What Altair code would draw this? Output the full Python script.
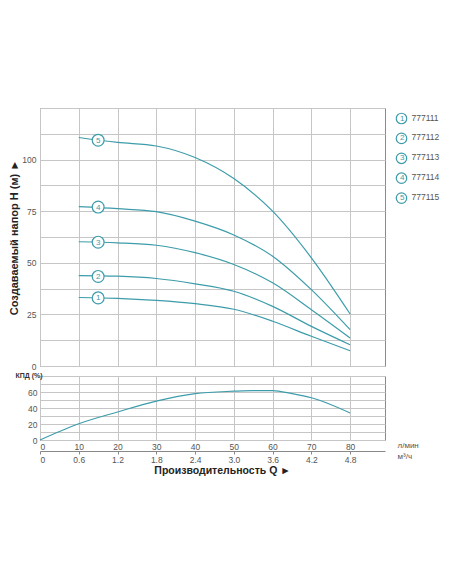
import altair as alt
import pandas as pd

# ---------------- data ----------------
Q = [10, 20, 30, 40, 50, 60, 70, 80]                      # л/мин
MODELS = ["777111", "777112", "777113", "777114", "777115"]
NUMS = ["1", "2", "3", "4", "5"]
H_777111 = [33.2, 32.8, 31.8, 30.2, 27.5, 21.7, 14.4, 7.4]
H_777112 = [43.8, 43.5, 42.4, 39.8, 36.2, 28.9, 19.2, 10.3]
H_777113 = [60.2, 59.7, 58.5, 54.9, 49.2, 40.3, 27.3, 13.6]
H_777114 = [77.2, 76.2, 74.8, 70.2, 63.5, 53.2, 37.0, 17.6]
H_777115 = [110.7, 108.3, 106.6, 101.0, 90.8, 75.0, 52.4, 25.2]
HEADS = [H_777111, H_777112, H_777113, H_777114, H_777115]

LABEL_Q = [15, 15, 15, 15, 15]
LABEL_H = [33.0, 43.4, 60.0, 77.0, 109.4]

EFF_Q = [0, 10, 20, 30, 40, 50, 55, 60, 65, 70, 80]
EFF = [0, 20.3, 35.0, 48.6, 58.0, 61.0, 61.8, 61.8, 58.0, 52.8, 33.8]

X_TICKS = [0, 10, 20, 30, 40, 50, 60, 70, 80]
H_TICKS = [0, 12.5, 25, 37.5, 50, 62.5, 75, 87.5, 100, 112.5, 125]
E_TICKS = [0, 10, 20, 30, 40, 50, 60, 70, 80]

# ---------------- tables ----------------
rows = []
for m, n, hs in zip(MODELS, NUMS, HEADS):
    for q, h in zip(Q, hs):
        rows.append({"model": m, "num": n, "q": q, "h": h})
curves = pd.DataFrame(rows)
labels = pd.DataFrame({"model": MODELS, "num": NUMS, "q": LABEL_Q, "h": LABEL_H})
eff = pd.DataFrame({"q": EFF_Q, "e": EFF})

TEAL = "#3d9caa"
FONT = "Liberation Sans"
LFONT = "Liberation Sans Narrow, Liberation Sans"
GRAY = "#555555"

xs = alt.Scale(domain=[0, 89], nice=False, zero=False)

# ---------------- top panel: head curves ----------------
x_top = alt.X("q:Q", scale=xs,
              axis=alt.Axis(values=X_TICKS, labels=False, ticks=False,
                            domain=False, title=None, grid=True))
y_top = alt.Y("h:Q", scale=alt.Scale(domain=[0, 125], nice=False),
              axis=alt.Axis(values=H_TICKS,
                            labelExpr="datum.value % 25 == 0 && datum.value < 125 ? datum.label : ''",
                            ticks=False, domain=False, grid=True,
                            labelFont=LFONT, labelFontSize=8.5, labelColor=GRAY,
                            labelPadding=4,
                            title="Создаваемый напор H (м) ►",
                            titleFont=FONT, titleFontSize=11, titleFontWeight="bold",
                            titleColor="#222222", titlePadding=2))

lines = alt.Chart(curves).mark_line(interpolate="monotone", strokeWidth=1.2).encode(
    x=x_top, y=y_top,
    color=alt.Color("num:N",
                    scale=alt.Scale(domain=NUMS, range=[TEAL] * 5),
                    legend=alt.Legend(orient="none", legendX=355.5, legendY=4.5,
                                      title=None, symbolType="circle", symbolSize=110,
                                      symbolFillColor="white", symbolStrokeColor=TEAL,
                                      symbolStrokeWidth=1.2,
                                      labelColor=TEAL, labelFont=FONT, labelFontSize=8,
                                      labelAlign="center", labelOffset={"expr": "-5.3"},
                                      rowPadding=3.9, padding=0)),
    detail="model:N",
)

pts = alt.Chart(labels).mark_point(filled=True, fill="white", stroke=TEAL,
                                   strokeWidth=1.2, size=140, opacity=1).encode(
    x=x_top, y=y_top,
    shape=alt.Shape("model:N",
                    scale=alt.Scale(domain=MODELS, range=["circle"] * 5),
                    legend=alt.Legend(orient="none", legendX=355.5, legendY=3.5,
                                      title=None, symbolOpacity=0, symbolSize=110,
                                      labelColor=GRAY, labelFont=LFONT, labelFontSize=8.5,
                                      labelOffset=4, rowPadding=7.9, padding=0)),
)

txt = alt.Chart(labels).mark_text(color=TEAL, font=FONT, fontSize=8, dy=0.5).encode(
    x=x_top, y=y_top, text="num:N"
)

top = alt.layer(lines, pts, txt).properties(width=345, height=258)

# ---------------- bottom panel: efficiency ----------------
x_bot = alt.X("q:Q", scale=xs,
              axis=alt.Axis(values=X_TICKS, grid=True, ticks=False, domain=False,
                            labelFont=LFONT, labelFontSize=8.5, labelColor=GRAY,
                            labelPadding=2,
                            title="л/мин", titleFont=LFONT, titleFontSize=8,
                            titleFontWeight="normal", titleColor=GRAY,
                            titleAngle=0, titleAlign="left", titleBaseline="middle",
                            titleX=357, titleY=5))
y_bot = alt.Y("e:Q", scale=alt.Scale(domain=[0, 80], nice=False),
              axis=alt.Axis(values=E_TICKS,
                            labelExpr="datum.value % 20 == 0 && datum.value < 80 ? datum.label : ''",
                            ticks=False, domain=False, grid=True,
                            labelFont=LFONT, labelFontSize=8.5, labelColor=GRAY,
                            labelPadding=3,
                            title="КПД (%)", titleFont=LFONT, titleFontSize=7,
                            titleFontWeight="bold", titleColor="#333333",
                            titleAngle=0, titleAlign="left", titleBaseline="middle",
                            titleX=-25, titleY=-1))

eff_line = alt.Chart(eff).mark_line(interpolate="monotone", color=TEAL,
                                    strokeWidth=1.2).encode(x=x_bot, y=y_bot)

x_m3 = alt.X("q:Q", scale=xs,
             axis=alt.Axis(values=X_TICKS, orient="bottom", offset=11, grid=False,
                           labelExpr="datum.value == 0 ? '0' : format(datum.value * 0.06, '.1f')",
                           ticks=True, tickSize=3, tickColor="#888888",
                           domain=True, domainColor="#888888",
                           labelFont=LFONT, labelFontSize=8.5, labelColor=GRAY,
                           labelPadding=1,
                           title="м³/ч", titleFont=LFONT, titleFontSize=8,
                           titleFontWeight="normal", titleColor=GRAY,
                           titleAngle=0, titleAlign="left", titleBaseline="middle",
                           titleX=357, titleY=5))
eff_m3 = alt.Chart(eff).mark_line(opacity=0).encode(x=x_m3, y=y_bot)

bottom = alt.layer(eff_line, eff_m3).resolve_axis(x="independent").properties(
    width=345, height=64,
    title=alt.Title("Производительность Q ►", orient="bottom", anchor="middle",
                    font=FONT, fontSize=10.5, fontWeight="bold", color="#222222",
                    offset=2, dx=10),
)

chart = alt.vconcat(top, bottom, spacing=10, bounds="flush").properties(
    padding={"left": 0, "top": 99, "right": 0, "bottom": 0}
).configure_view(stroke="#8a8a8a", strokeWidth=1).configure_axis(
    gridColor="#c6c6c6", gridWidth=1
)

chart.save("out.html", embed_options={"renderer": "svg", "actions": False})
